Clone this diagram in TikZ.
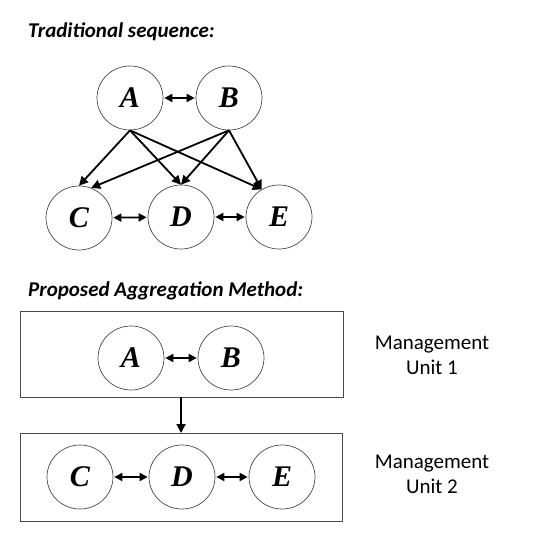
\documentclass[tikz,border=0pt]{standalone}
\usepackage{fontspec}
\setmainfont{Carlito}
\newfontfamily\letterfont{Liberation Serif}
\usetikzlibrary{arrows.meta,shapes.geometric}
\definecolor{Ink}{HTML}{000000}
\definecolor{Rim}{HTML}{4A4A4A}

\tikzset{
  var/.style={ellipse,draw=Rim,line width=0.7pt,minimum width=66pt,minimum height=64pt,
    inner sep=0pt,font=\letterfont\fontsize{30}{30}\selectfont\bfseries\itshape},
  unit/.style={draw=Rim,line width=0.8pt},
  link/.style={-{Triangle[length=9pt,width=9pt]},line width=1.8pt,Ink},
  both/.style={{Triangle[length=8pt,width=8pt]}-{Triangle[length=8pt,width=8pt]},line width=1.8pt,Ink,shorten <=1pt,shorten >=1pt},
  heading/.style={anchor=base west,inner sep=0pt,font=\fontsize{21}{21}\selectfont\bfseries\itshape},
  side/.style={align=center,font=\fontsize{21}{25}\selectfont}
}

\begin{document}
\begin{tikzpicture}[x=1pt,y=-1pt]
        \useasboundingbox (0,0) rectangle (536,545);

        % traditional sequence
        \node[heading] (t0) at (28,38) {Traditional sequence:};
        \node[var] (tA) at (130,98) {A};
        \node[var] (tB) at (229,98) {B};
        \node[var] (tC) at (79,218) {C};
        \node[var] (tD) at (181,217) {D};
        \node[var] (tE) at (279,217) {E};

        \draw[both] (tA) -- (tB);
        \draw[both] (tC) -- (tD);
        \draw[both] (tD) -- (tE);
        \foreach \src in {tA,tB}{
          \draw[link] (\src.south) -- (tD.north);
          \draw[link] (\src.south) -- (tE.122);
        }
        \draw[link] (tA.south) -- (tC.north);
        \draw[link] (tB.south) -- (tC.68);

        % proposed aggregation
        \node[heading] (p0) at (28,296) {Proposed Aggregation Method:};
        \draw[unit] (20,311) rectangle (343,397);
        \draw[unit] (20,433) rectangle (342,521);
        \coordinate (u1) at (181,397);
        \coordinate (u2) at (181,433);
        \node[var] (pA) at (131,358) {A};
        \node[var] (pB) at (231,358) {B};
        \node[var] (pC) at (80,477) {C};
        \node[var] (pD) at (182,477) {D};
        \node[var] (pE) at (282,477) {E};

        \draw[both] (pA) -- (pB);
        \draw[both] (pC) -- (pD);
        \draw[both] (pD) -- (pE);
        \draw[link] (u1) -- (u2);

        \node[side] (m1) at (432,355) {Management\\Unit 1};
        \node[side] (m2) at (432,474) {Management\\Unit 2};
      \end{tikzpicture}
\end{document}
